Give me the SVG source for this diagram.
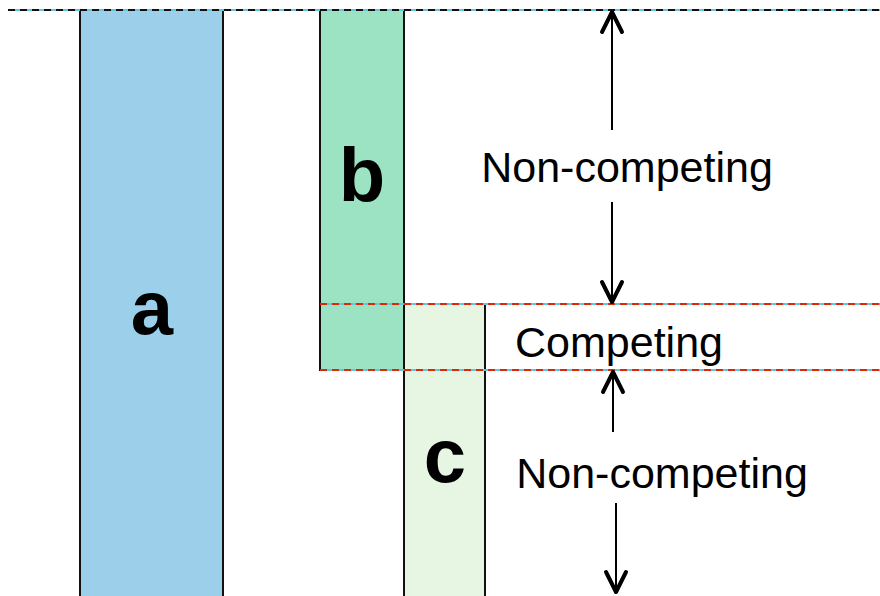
<svg xmlns="http://www.w3.org/2000/svg" width="880" height="596" viewBox="0 0 880 596">
<style>
.box{stroke:#111;stroke-width:2}
.lbl{font-family:"Liberation Sans",Arial,sans-serif;font-weight:bold;font-size:76px;text-anchor:middle;fill:#000}
.txt{font-family:"Liberation Sans",Arial,sans-serif;font-size:43px;text-anchor:middle;fill:#000}
.base{stroke:#5cc9e2;stroke-width:2}
.dk{stroke:#111;stroke-width:2;stroke-dasharray:7 5}
.rd{stroke:#d92a0c;stroke-width:2;stroke-dasharray:7 5}
.shaft{stroke:#000;stroke-width:2;fill:none}
.head{stroke:#000;stroke-width:4;fill:none;stroke-linecap:round;stroke-linejoin:round}
</style>
<rect width="880" height="596" fill="#fff"/>
<g id="a">
<rect class="box" x="80" y="10" width="143" height="600" fill="#9bcfea"/>
<text class="lbl" x="152" y="334">a</text>
</g>
<g id="b">
<rect class="box" x="320" y="10" width="84" height="360" fill="#9be3c3"/>
<text class="lbl" x="362" y="201">b</text>
</g>
<g id="c">
<rect class="box" x="404" y="304" width="81" height="300" fill="#e6f6e3"/>
<text class="lbl" x="445" y="482">c</text>
</g>
<g id="guides">
<line class="base" x1="8" y1="10" x2="880" y2="10"/>
<line class="dk" x1="8" y1="10" x2="880" y2="10"/>
<line class="base" x1="320" y1="304" x2="880" y2="304"/>
<line class="rd" x1="320" y1="304" x2="880" y2="304"/>
<line class="base" x1="320" y1="370" x2="880" y2="370"/>
<line class="rd" x1="320" y1="370" x2="880" y2="370"/>
</g>
<g id="connectors">
<line class="shaft" x1="612" y1="130" x2="612" y2="12"/>
<polyline class="head" points="602,32 612,12 622,32"/>
<line class="shaft" x1="612" y1="202" x2="612" y2="302"/>
<polyline class="head" points="602,282 612,302 622,282"/>
<line class="shaft" x1="613" y1="432" x2="613" y2="372"/>
<polyline class="head" points="603,392 613,372 623,392"/>
<line class="shaft" x1="616" y1="503" x2="616" y2="592"/>
<polyline class="head" points="606,572 616,592 626,572"/>
</g>
<g id="labels">
<text class="txt" x="627" y="182">Non-competing</text>
<text class="txt" x="619" y="357">Competing</text>
<text class="txt" x="662" y="488">Non-competing</text>
</g>
</svg>
